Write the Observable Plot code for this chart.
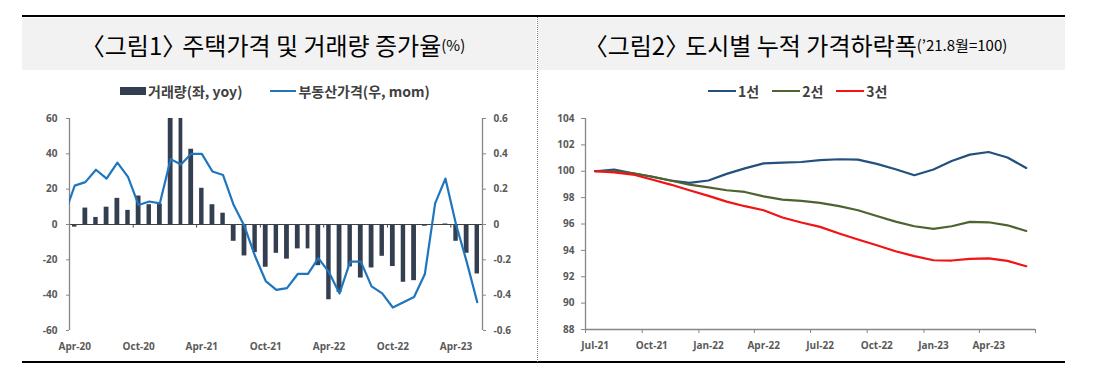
<!DOCTYPE html>
<html><head><meta charset="utf-8">
<script src="https://cdn.jsdelivr.net/npm/d3@7"></script>
<script src="https://cdn.jsdelivr.net/npm/@observablehq/plot@0.6"></script>
<style>
body{margin:0;background:#fff;}
#wrap{position:relative;width:1113px;height:365px;overflow:hidden;font-family:"Noto Sans CJK KR","Noto Sans",sans-serif;}
.rule{position:absolute;left:22px;width:1043px;height:2px;background:#000;}
.hdr{position:absolute;top:18px;height:52px;background:#f2f2f2;display:flex;align-items:center;justify-content:center;font-size:24px;color:#000;white-space:nowrap;}
.hdr small{font-size:15px;}
.hdr .lb{margin-left:-12px;}
.hdr .rb{letter-spacing:-4px;}
.divider{position:absolute;left:537px;top:17px;height:345px;border-left:1px dotted #808080;}
.legend{position:absolute;top:82px;height:18px;display:flex;align-items:center;font-size:14px;font-weight:700;color:#404040;white-space:nowrap;}
.sw-bar{display:inline-block;width:26px;height:8px;margin-right:2px;}
.sw-line{display:inline-block;width:26px;height:2px;margin-right:2px;}
.gap{display:inline-block;}
.chart{position:absolute;top:105px;}
</style>
</head><body>
<div id="wrap">
  <div class="rule" style="top:15px"></div>
  <div class="rule" style="top:361px"></div>
  <div class="hdr" style="left:22px;width:514px"><span class="lb">〈</span>그림1<span class="rb">〉</span> 주택가격 및 거래량 증가율<small>(%)</small></div>
  <div class="hdr" style="left:538px;width:527px"><span class="lb">〈</span>그림2<span class="rb">〉</span> 도시별 누적 가격하락폭<small>(’21.8월=100)</small></div>
  <div class="divider"></div>
  <div class="legend" id="leg1" style="left:120px"></div>
  <div class="legend" id="leg2" style="left:708px"></div>
  <div class="chart" id="c1" style="left:0px"></div>
  <div class="chart" id="c2" style="left:540px"></div>
</div>
<script>
// ---------- Chart 1 data ----------
const volumeLabel = "거래량(좌, yoy)";
const priceLabel = "부동산가격(우, mom)";
// monthly categories Apr-20 .. Jun-23
const months1 = d3.utcMonths(new Date(Date.UTC(2020,3,1)), new Date(Date.UTC(2023,6,1)));
// transaction volume, yoy % (left axis)
const volumeYoY = [-1.5, 9.3, 4.0, 9.8, 14.8, 8.0, 16.1, 11.2, 11.6,
  66, 64, 42.6, 20.5, 11.2, 6.4, -9.5, -17.8, -15.9, -24.2, -16.3, -19.6,
  -13.8, -13.8, -23.3, -42.6, -38.5, -24, -30.3, -24.6, -18, -23.8, -32.7, -31.8,
  -1.0, -0.5, 0.3, -9.5, -16.3, -28];
// real-estate price, mom % (right axis), Mar-20 .. Jun-23
const priceStart = new Date(Date.UTC(2020,2,1));
const priceMoM = [0.05, 0.22, 0.24, 0.31, 0.26, 0.35, 0.27, 0.11, 0.13, 0.12,
  0.37, 0.34, 0.40, 0.40, 0.30, 0.28, 0.11, -0.01, -0.18, -0.32, -0.37, -0.36,
  -0.28, -0.28, -0.19, -0.27, -0.39, -0.21, -0.21, -0.35, -0.39, -0.47, -0.44, -0.41,
  -0.28, 0.12, 0.26, 0.0, -0.21, -0.44];
const leftTicks = [-60, -40, -20, 0, 20, 40, 60];

// ---------- Chart 2 data ----------
const months2 = d3.utcMonths(new Date(Date.UTC(2021,6,1)), new Date(Date.UTC(2023,6,1)));
const seriesNames = ["1선", "2선", "3선"];
const tier1 = [100.0, 100.13, 99.85, 99.58, 99.3, 99.12, 99.3, 99.8, 100.22, 100.6, 100.65, 100.7,
  100.84, 100.91, 100.88, 100.56, 100.15, 99.7, 100.13, 100.78, 101.26, 101.46, 101.04, 100.25];
const tier2 = [100.0, 100.0, 99.85, 99.6, 99.3, 98.98, 98.78, 98.56, 98.43, 98.1, 97.85, 97.75,
  97.6, 97.35, 97.04, 96.61, 96.18, 95.83, 95.63, 95.83, 96.16, 96.13, 95.9, 95.47];
const tier3 = [100.0, 99.92, 99.75, 99.37, 98.99, 98.56, 98.13, 97.7, 97.35, 97.04, 96.49, 96.11,
  95.78, 95.28, 94.82, 94.39, 93.93, 93.56, 93.25, 93.23, 93.35, 93.4, 93.2, 92.8];
const rightTicks = [88, 90, 92, 94, 96, 98, 100, 102, 104];

// ---------- styles ----------
const barColor = "#333f50", priceColor = "#1f75be";
const tierColors = ["#24507e", "#4d6330", "#f01414"];
const axisGray = "#868686", labelGray = "#595959";
const fontStyle = {fontFamily: "'Open Sans', sans-serif", fontSize: "10px", fontWeight: "bold", background: "transparent"};
const mid = d => new Date((+d + +d3.utcMonth.offset(d, 1)) / 2);

// legends
document.getElementById("leg1").innerHTML =
  `<span class="sw-bar" style="background:${barColor}"></span>${volumeLabel}` +
  `<span class="gap" style="width:28px"></span>` +
  `<span class="sw-line" style="background:${priceColor}"></span>${priceLabel}`;
document.getElementById("leg2").innerHTML = seriesNames.map((s, i) =>
  `<span class="sw-line" style="width:28px;background:${tierColors[i]}"></span>${s}`).join(`<span class="gap" style="width:13px"></span>`);

// ---------- Chart 1 ----------
const volData = months1.map((d, i) => ({start: d, end: d3.utcMonth.offset(d, 1), v: volumeYoY[i]}));
const priceData = priceMoM.map((v, i) => ({date: mid(d3.utcMonth.offset(priceStart, i)), v}));
const x1Domain = [months1[0], d3.utcMonth.offset(months1[months1.length - 1], 1)];
const labels1 = months1.filter((d, i) => i % 6 === 0).map(mid);
const bounds1 = months1.filter((d, i) => i % 6 === 0 && i > 0);

const chart1 = Plot.plot({
  width: 537, height: 255,
  marginLeft: 69, marginRight: 55, marginTop: 13, marginBottom: 30,
  style: fontStyle,
  x: {type: "utc", domain: x1Domain, label: null},
  y: {domain: [-60, 60], label: null},
  marks: [
    Plot.rectY(volData, {x1: "start", x2: "end", y: "v", fill: barColor, insetLeft: 3, insetRight: 3, clip: true}),
    Plot.ruleY([0], {stroke: "#404040", strokeWidth: 1}),
    Plot.ruleX(bounds1, {y1: 0, y2: -2, stroke: "#404040"}),
    Plot.ruleX([x1Domain[0], x1Domain[1]], {y1: -60, y2: 60, stroke: axisGray, strokeWidth: 1.3}),
    Plot.line(priceData, {x: "date", y: d => d.v * 100, stroke: priceColor, strokeWidth: 2.2, clip: true}),
    Plot.axisY({anchor: "left", label: null, ticks: leftTicks, tickFormat: d => String(d), tickSize: 3, tickPadding: 9, stroke: axisGray, fill: labelGray}),
    Plot.axisY({anchor: "right", label: null, ticks: leftTicks, tickFormat: d => d === 0 ? "0" : (d / 100).toFixed(1), tickSize: 3, tickPadding: 8, stroke: axisGray, fill: labelGray}),
    Plot.axisX({anchor: "bottom", label: null, ticks: labels1, tickFormat: d3.utcFormat("%b-%y"), tickSize: 0, tickPadding: 12, fill: labelGray})
  ]
});
document.getElementById("c1").appendChild(chart1);

// ---------- Chart 2 ----------
const tierValues = [tier1, tier2, tier3];
const tierData = seriesNames.flatMap((s, k) => months2.map((d, i) => ({date: mid(d), v: tierValues[k][i], s})));
const x2Domain = [months2[0], d3.utcMonth.offset(months2[months2.length - 1], 1)];
const labels2 = months2.filter((d, i) => i % 3 === 0).map(mid);
const bounds2 = months2.filter((d, i) => i % 3 === 0).concat([x2Domain[1]]);

const chart2 = Plot.plot({
  width: 520, height: 255,
  marginLeft: 45, marginRight: 25, marginTop: 13, marginBottom: 31,
  style: fontStyle,
  x: {type: "utc", domain: x2Domain, label: null},
  y: {domain: [88, 104], label: null},
  color: {domain: seriesNames, range: tierColors},
  marks: [
    Plot.ruleX([x2Domain[0]], {y1: 88, y2: 104, stroke: axisGray, strokeWidth: 1.3}),
    Plot.ruleY([88], {stroke: axisGray, strokeWidth: 1.3}),
    Plot.line(tierData, {x: "date", y: "v", z: "s", stroke: "s", strokeWidth: 2.2}),
    Plot.axisY({anchor: "left", label: null, ticks: rightTicks, tickFormat: d => String(d), tickSize: 4, tickPadding: 7, stroke: axisGray, fill: labelGray}),
    Plot.axisX({anchor: "bottom", label: null, ticks: bounds2, tickFormat: () => "", tickSize: 4, stroke: axisGray}),
    Plot.axisX({anchor: "bottom", label: null, ticks: labels2, tickFormat: d3.utcFormat("%b-%y"), tickSize: 0, tickPadding: 12, fill: labelGray})
  ]
});
document.getElementById("c2").appendChild(chart2);
</script>
</body></html>
